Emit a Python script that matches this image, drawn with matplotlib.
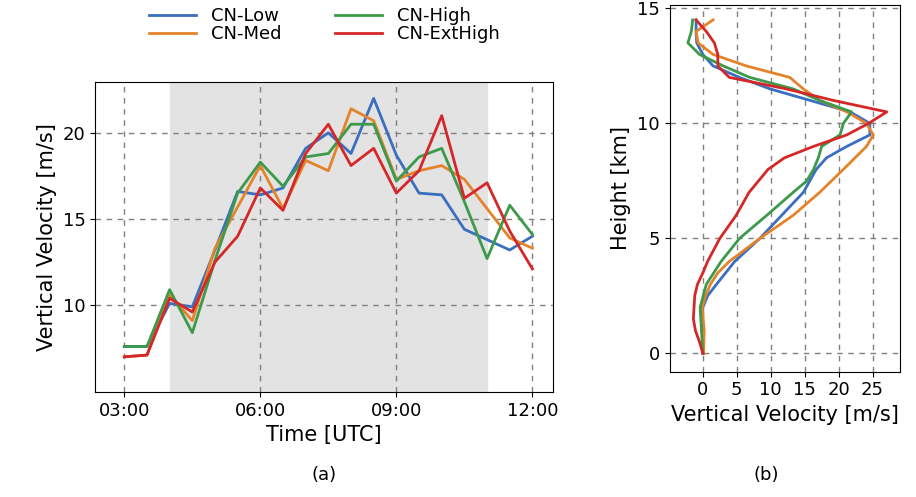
import numpy as np
import matplotlib
matplotlib.use("Agg")
import matplotlib.pyplot as plt

# ----------------------------
# Data
# ----------------------------
names = ["CN-Low", "CN-Med", "CN-High", "CN-ExtHigh"]
colors = ["#3a6fbf", "#e5832b", "#3c9a4a", "#d62728"]

# (a) time series, every 30 min from 03:00 to 12:00
hours = [3 + 0.5 * i for i in range(19)]
ts_low = [7.6, 7.6, 10.1, 9.9, 13.2, 16.6, 16.4, 16.8, 19.1, 20.0, 18.8, 22.0,
          18.7, 16.5, 16.4, 14.4, 13.8, 13.2, 14.0]
ts_med = [7.0, 7.1, 10.6, 9.1, 13.3, 15.7, 18.1, 15.6, 18.4, 17.8, 21.4, 20.7,
          17.3, 17.8, 18.1, 17.3, 15.6, 13.9, 13.3]
ts_high = [7.6, 7.6, 10.9, 8.4, 12.6, 16.5, 18.3, 16.9, 18.6, 18.8, 20.5, 20.5,
           17.2, 18.6, 19.1, 16.0, 12.7, 15.8, 14.1]
ts_ext = [7.0, 7.1, 10.4, 9.6, 12.5, 14.0, 16.8, 15.5, 18.8, 20.5, 18.1, 19.1,
          16.5, 17.8, 21.0, 16.2, 17.1, 14.3, 12.1]

# (b) vertical profiles (height km, velocity m/s)
h_low = [0, 1, 2, 2.5, 3, 4, 5, 6, 7, 8, 8.5, 9, 9.5, 10, 10.5, 11, 11.5, 12, 12.5, 13, 13.5, 14, 14.5]
v_low = [0, -0.1, 0, 0.7, 2, 4.7, 8.4, 11.6, 14.8, 16.7, 18.2, 21.2, 24.6, 24.6, 21.7, 15.8, 9.9, 5.4, 1.5, 0, -0.9, -1, -1]
h_med = [0, 1, 2, 2.5, 3, 3.5, 4, 5, 6, 7, 8, 9, 9.5, 10, 10.5, 11, 11.5, 12, 12.5, 13, 13.5, 14, 14.5]
v_med = [0.1, 0.2, -0.1, 0.4, 1.1, 2.2, 3.9, 8.4, 13.3, 17.2, 20.7, 24.1, 25.1, 24.1, 21.2, 17.2, 14.8, 12.8, 6.4, 1.5, -0.7, -1, 1.5]
h_high = [0, 1, 2, 3, 4, 5, 6, 7, 7.5, 8, 8.5, 9, 9.5, 10, 10.5, 11, 11.5, 12, 12.5, 13, 13.5, 14, 14.5]
v_high = [0, -0.2, -0.4, 0.5, 2.7, 5.4, 9.4, 13.3, 15.3, 16.3, 17.0, 17.5, 20.2, 20.7, 21.9, 17.2, 13.3, 6.9, 3.0, -0.5, -2.2, -1.7, -1.5]
h_ext = [0, 0.5, 1, 1.5, 2, 2.5, 3, 3.5, 4, 5, 6, 7, 8, 8.5, 9, 9.5, 10, 10.5, 11, 11.5, 12, 12.5, 13, 13.5, 14, 14.5]
v_ext = [0, -0.5, -1.1, -1.4, -1.3, -1.2, -0.8, 0.0, 0.7, 2.5, 4.9, 6.8, 9.6, 12.0, 16.3, 21.2, 24.4, 27.1, 19.2, 12.3, 3.9, 2.2, 2.2, 1.7, 0.5, -1.0]

# ----------------------------
# Plot
# ----------------------------
plt.rcParams["font.family"] = "DejaVu Sans"
fig = plt.figure(figsize=(9.16, 4.97), dpi=100)
ax1 = fig.add_axes([0.104, 0.211, 0.500, 0.624])
ax2 = fig.add_axes([0.731, 0.252, 0.252, 0.738])

grid_kw = dict(color="#808080", linestyle=(0, (4, 4)), linewidth=1.0)

ax1.axvspan(4, 11, color="#e3e3e3", zorder=0)
for ys, c, n in zip([ts_low, ts_med, ts_high, ts_ext], colors, names):
    ax1.plot(hours, ys, color=c, lw=2, label=n)
ax1.set_xlim(2.36, 12.46)
ax1.set_ylim(4.95, 22.95)
ax1.set_xticks([3, 6, 9, 12])
ax1.set_xticklabels(["03:00", "06:00", "09:00", "12:00"])
ax1.set_yticks([10, 15, 20])
ax1.grid(True, **grid_kw)
ax1.set_axisbelow(True)
ax1.tick_params(labelsize=13)
ax1.set_xlabel("Time [UTC]", fontsize=15)
ax1.set_ylabel("Vertical Velocity [m/s]", fontsize=15)
fig.text(0.354, 0.035, "(a)", ha="center", fontsize=13)
ax1.legend(ncol=2, loc="lower center", bbox_to_anchor=(0.5, 1.09), frameon=False,
           fontsize=13, handlelength=2.6, columnspacing=3.0, labelspacing=0.0,
           borderpad=0.1)

for hs, vs, c in zip([h_low, h_med, h_high, h_ext], [v_low, v_med, v_high, v_ext], colors):
    ax2.plot(vs, hs, color=c, lw=2)
ax2.set_xlim(-4.9, 29.1)
ax2.set_ylim(-0.8, 15.15)
ax2.set_xticks([0, 5, 10, 15, 20, 25])
ax2.set_yticks([0, 5, 10, 15])
ax2.grid(True, **grid_kw)
ax2.tick_params(labelsize=13)
ax2.set_xlabel("Vertical Velocity [m/s]", fontsize=15)
ax2.set_ylabel("Height [km]", fontsize=15)
fig.text(0.837, 0.035, "(b)", ha="center", fontsize=13)

fig.savefig("out.png", dpi=100)
